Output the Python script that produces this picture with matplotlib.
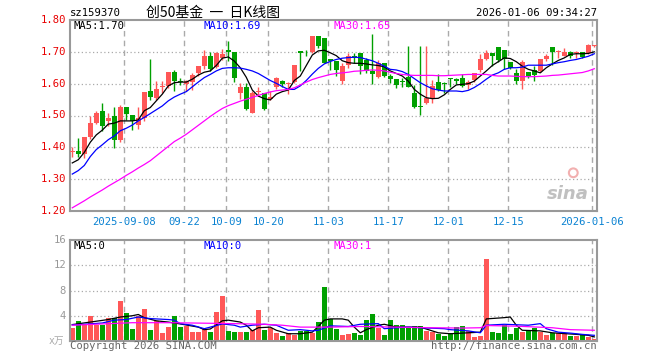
import matplotlib.pyplot as plt
import numpy as np

# daily candles, 2025-08-26 .. 2026-01-06 (88 trading days)
opens = [1.385, 1.388, 1.380, 1.433, 1.476, 1.514, 1.483, 1.497, 1.424, 1.526,
         1.501, 1.470, 1.493, 1.576, 1.555, 1.588, 1.593, 1.636, 1.608, 1.598,
         1.605, 1.634, 1.655, 1.686, 1.653, 1.681, 1.705, 1.699, 1.570, 1.588,
         1.509, 1.574, 1.572, 1.551, 1.589, 1.608, 1.598, 1.605, 1.704, 1.699,
         1.699, 1.749, 1.745, 1.676, 1.671, 1.608, 1.658, 1.686, 1.697, 1.673,
         1.640, 1.621, 1.666, 1.624, 1.614, 1.607, 1.621, 1.570, 1.528, 1.539,
         1.554, 1.604, 1.601, 1.617, 1.614, 1.619, 1.596, 1.610, 1.642, 1.679,
         1.697, 1.715, 1.707, 1.669, 1.634, 1.608, 1.638, 1.642, 1.640, 1.676,
         1.715, 1.700, 1.686, 1.700, 1.696, 1.700, 1.697, 1.717]
closes = [1.385, 1.380, 1.432, 1.476, 1.509, 1.468, 1.492, 1.424, 1.526, 1.505,
          1.484, 1.493, 1.574, 1.557, 1.582, 1.593, 1.636, 1.608, 1.604, 1.607,
          1.626, 1.655, 1.686, 1.645, 1.695, 1.692, 1.699, 1.619, 1.588, 1.520,
          1.570, 1.578, 1.520, 1.557, 1.619, 1.600, 1.603, 1.660, 1.695, 1.698,
          1.749, 1.718, 1.666, 1.671, 1.642, 1.657, 1.686, 1.681, 1.655, 1.640,
          1.631, 1.666, 1.624, 1.616, 1.596, 1.605, 1.590, 1.527, 1.527, 1.554,
          1.592, 1.580, 1.599, 1.614, 1.608, 1.593, 1.606, 1.634, 1.679, 1.697,
          1.686, 1.673, 1.676, 1.650, 1.608, 1.669, 1.624, 1.627, 1.676, 1.686,
          1.700, 1.703, 1.700, 1.686, 1.698, 1.685, 1.723, 1.721]
highs = [1.400, 1.430, 1.432, 1.500, 1.513, 1.539, 1.507, 1.526, 1.532, 1.526,
         1.501, 1.526, 1.574, 1.676, 1.607, 1.607, 1.636, 1.642, 1.619, 1.613,
         1.634, 1.655, 1.705, 1.700, 1.700, 1.710, 1.735, 1.699, 1.603, 1.603,
         1.577, 1.591, 1.572, 1.577, 1.622, 1.612, 1.605, 1.660, 1.704, 1.707,
         1.751, 1.751, 1.745, 1.676, 1.671, 1.666, 1.697, 1.697, 1.697, 1.681,
         1.756, 1.673, 1.666, 1.629, 1.614, 1.619, 1.717, 1.596, 1.717, 1.717,
         1.610, 1.629, 1.606, 1.619, 1.619, 1.629, 1.610, 1.634, 1.692, 1.707,
         1.697, 1.715, 1.707, 1.669, 1.645, 1.673, 1.638, 1.655, 1.676, 1.694,
         1.715, 1.707, 1.712, 1.704, 1.704, 1.700, 1.725, 1.723]
lows = [1.370, 1.370, 1.366, 1.426, 1.472, 1.451, 1.466, 1.399, 1.416, 1.486,
        1.453, 1.457, 1.483, 1.549, 1.549, 1.572, 1.586, 1.576, 1.595, 1.576,
        1.580, 1.624, 1.645, 1.641, 1.649, 1.673, 1.671, 1.605, 1.553, 1.517,
        1.507, 1.561, 1.517, 1.549, 1.584, 1.588, 1.567, 1.603, 1.640, 1.688,
        1.695, 1.712, 1.666, 1.642, 1.624, 1.600, 1.650, 1.665, 1.631, 1.634,
        1.600, 1.619, 1.621, 1.603, 1.585, 1.590, 1.588, 1.525, 1.502, 1.535,
        1.539, 1.577, 1.572, 1.588, 1.600, 1.588, 1.582, 1.605, 1.637, 1.673,
        1.655, 1.669, 1.645, 1.645, 1.600, 1.582, 1.617, 1.608, 1.638, 1.671,
        1.660, 1.680, 1.686, 1.680, 1.680, 1.680, 1.694, 1.715]

ma5 = [1.351, 1.361, 1.384, 1.416, 1.439, 1.454, 1.473, 1.476, 1.483, 1.483,
       1.483, 1.486, 1.515, 1.525, 1.546, 1.567, 1.593, 1.603, 1.605, 1.605,
       1.614, 1.627, 1.636, 1.640, 1.657, 1.680, 1.684, 1.671, 1.650, 1.620,
       1.580, 1.561, 1.553, 1.549, 1.567, 1.575, 1.580, 1.610, 1.624, 1.657,
       1.690, 1.703, 1.705, 1.697, 1.688, 1.672, 1.666, 1.664, 1.664, 1.662,
       1.659, 1.657, 1.653, 1.640, 1.632, 1.624, 1.608, 1.582, 1.567, 1.556,
       1.553, 1.554, 1.565, 1.582, 1.596, 1.598, 1.600, 1.608, 1.624, 1.640,
       1.657, 1.669, 1.681, 1.679, 1.669, 1.655, 1.645, 1.640, 1.634, 1.650,
       1.662, 1.673, 1.681, 1.692, 1.694, 1.694, 1.695, 1.700]
ma10 = [1.316, 1.327, 1.343, 1.371, 1.393, 1.408, 1.424, 1.436, 1.452, 1.460,
        1.470, 1.483, 1.494, 1.506, 1.518, 1.530, 1.546, 1.558, 1.567, 1.575,
        1.590, 1.605, 1.619, 1.629, 1.640, 1.648, 1.650, 1.650, 1.649, 1.645,
        1.640, 1.632, 1.621, 1.610, 1.601, 1.591, 1.582, 1.582, 1.593, 1.610,
        1.630, 1.648, 1.662, 1.670, 1.676, 1.680, 1.682, 1.683, 1.682, 1.677,
        1.672, 1.664, 1.655, 1.645, 1.643, 1.638, 1.629, 1.616, 1.603, 1.593,
        1.584, 1.580, 1.577, 1.577, 1.577, 1.575, 1.579, 1.588, 1.600, 1.614,
        1.627, 1.634, 1.645, 1.650, 1.650, 1.652, 1.658, 1.658, 1.658, 1.658,
        1.662, 1.666, 1.669, 1.673, 1.676, 1.681, 1.686, 1.694]
ma30 = [1.210, 1.221, 1.232, 1.244, 1.255, 1.266, 1.278, 1.289, 1.300, 1.312,
        1.323, 1.335, 1.346, 1.358, 1.373, 1.388, 1.403, 1.418, 1.429, 1.441,
        1.455, 1.469, 1.483, 1.497, 1.510, 1.522, 1.531, 1.538, 1.545, 1.551,
        1.557, 1.563, 1.569, 1.574, 1.578, 1.580, 1.582, 1.587, 1.596, 1.605,
        1.613, 1.619, 1.624, 1.629, 1.632, 1.634, 1.636, 1.639, 1.640, 1.642,
        1.643, 1.642, 1.640, 1.636, 1.632, 1.629, 1.627, 1.626, 1.626, 1.626,
        1.626, 1.625, 1.625, 1.626, 1.627, 1.628, 1.629, 1.629, 1.629, 1.629,
        1.626, 1.624, 1.624, 1.624, 1.623, 1.622, 1.622, 1.622, 1.623, 1.624,
        1.626, 1.627, 1.629, 1.631, 1.633, 1.635, 1.640, 1.647]

# volume (x万)
volume = [2.0, 3.1, 2.6, 4.0, 2.6, 2.6, 3.6, 3.6, 6.3, 4.4,
          1.85, 4.0, 5.0, 1.7, 3.1, 1.2, 2.2, 4.0, 2.2, 2.3,
          1.4, 1.4, 1.85, 1.4, 4.55, 7.1, 1.55, 1.4, 1.4, 1.4,
          1.7, 4.9, 1.7, 2.0, 1.2, 0.75, 1.2, 0.9, 1.55, 1.55,
          1.2, 3.0, 8.5, 3.5, 1.85, 0.9, 1.05, 1.2, 0.9, 3.3,
          4.2, 2.0, 0.9, 3.4, 2.5, 2.5, 2.2, 2.3, 2.3, 1.55,
          1.4, 1.05, 0.75, 1.2, 2.2, 2.3, 1.55, 0.6, 0.75, 13.0,
          1.4, 1.2, 2.5, 1.05, 2.0, 1.4, 1.7, 2.0, 1.4, 0.9,
          1.2, 1.2, 1.2, 0.75, 0.75, 0.9, 0.6, 0.25]
vma5_idx = [0, 3, 6, 8, 10, 11, 12, 14, 16, 18, 21, 22, 23, 25, 26, 28, 29, 30,
            31, 33, 34, 36, 38, 40, 41, 42, 43, 45, 46, 47, 48, 49, 51, 52, 54,
            58, 60, 61, 63, 66, 68, 69, 72, 73, 74, 75, 78, 80, 84, 86, 87]
vma5 = [2.6, 3.0, 3.4, 3.8, 4.0, 4.2, 3.7, 3.2, 3.0, 2.7, 2.2, 1.8, 1.9, 3.2,
        3.3, 3.0, 2.5, 1.6, 2.1, 2.2, 1.7, 1.15, 1.15, 1.4, 2.3, 3.3, 3.5, 3.5,
        3.3, 2.2, 1.3, 1.8, 2.5, 2.65, 2.2, 2.2, 1.6, 1.3, 1.15, 1.3, 1.4, 3.5,
        3.7, 3.8, 2.5, 1.7, 1.6, 1.3, 1.05, 0.9, 0.65]
vma10_idx = [0, 2, 5, 7, 9, 11, 13, 16, 17, 18, 20, 22, 25, 27, 28, 30, 32, 34,
             36, 38, 40, 41, 43, 46, 48, 51, 52, 54, 56, 58, 62, 63, 66, 68, 69,
             72, 76, 78, 79, 81, 83, 85, 87]
vma10 = [2.55, 2.65, 2.85, 3.3, 3.4, 3.8, 3.55, 3.4, 3.3, 2.75, 2.5, 1.95, 2.7,
         2.5, 2.2, 2.5, 2.65, 2.5, 1.7, 1.8, 1.6, 1.7, 2.4, 2.3, 2.65, 2.75,
         1.95, 2.1, 2.2, 2.1, 1.95, 1.8, 1.6, 1.3, 2.5, 2.65, 2.5, 2.75, 1.95,
         1.4, 1.25, 1.05, 0.9]
vma30_idx = [0, 5, 10, 16, 20, 27, 32, 35, 38, 43, 48, 54, 60, 65, 68, 69, 74,
             80, 83, 87]
vma30 = [2.5, 2.7, 2.9, 2.9, 2.85, 2.75, 2.65, 2.5, 2.2, 2.2, 2.3, 2.2, 2.1,
         2.05, 2.1, 2.45, 2.35, 2.1, 1.8, 1.7]

tick_idx = [9, 19, 26, 33, 43, 53, 63, 73, 87]
tick_labels = ['2025-09-08', '09-22', '10-09', '10-20', '11-03', '11-17',
               '12-01', '12-15', '2026-01-06']
price_ticks = [1.20, 1.30, 1.40, 1.50, 1.60, 1.70, 1.80]
vol_ticks = [4, 8, 12, 16]

RED = '#ff5757'
GREEN = '#00a000'
GRID = '#aaaaaa'
MONO = ['DejaVu Sans Mono', 'Noto Sans CJK SC']

fig = plt.figure(figsize=(6.6, 3.6), dpi=100)
W, H = 660, 360


def box(l, t, r, b):
    return [l / W, 1 - b / H, (r - l) / W, (b - t) / H]


ax = fig.add_axes(box(70, 20, 597, 211))
axv = fig.add_axes(box(70, 240, 597, 341))

x = np.arange(len(opens))
o = np.array(opens)
c = np.array(closes)
up = c >= o
colors = np.where(up, RED, GREEN)

for a in (ax, axv):
    a.set_xlim(-0.38, 87.45)
    for s in a.spines.values():
        s.set_color('#999999')
        s.set_linewidth(1.5)
    a.set_xticks([])
    a.set_yticks([])
    for t in tick_idx:
        a.axvline(t - 0.33, color=GRID, lw=1.0, ls=(0, (4, 3)), zorder=0)

# price panel
ax.set_ylim(1.20, 1.80)
for p in price_ticks[1:-1]:
    ax.axhline(p, color=GRID, lw=0.9, ls=(0, (1, 2)), zorder=0)
ax.vlines(x, lows, highs, colors=colors, lw=1.0, zorder=2)
ax.bar(x, np.maximum(np.abs(c - o), 0.0025), bottom=np.minimum(o, c),
       width=0.82, color=colors, zorder=3, linewidth=0)
ax.plot(x, ma5, color='black', lw=0.9, zorder=4)
ax.plot(x, ma10, color='#0000ff', lw=0.9, zorder=4)
ax.plot(x, ma30, color='#ff00ff', lw=0.9, zorder=4)

ax.text(0.985, 0.04, 'sina', transform=ax.transAxes, ha='right', va='bottom',
        fontsize=13, color='#c0c0c0', style='italic', weight='bold', zorder=1)
ax.scatter([0.955], [0.2], s=40, transform=ax.transAxes, facecolor='none',
           edgecolor='#f2b0b0', lw=1.5, zorder=1)

# volume panel
axv.set_ylim(0, 16)
for v in vol_ticks[:-1]:
    axv.axhline(v, color=GRID, lw=0.9, ls=(0, (1, 2)), zorder=0)
axv.bar(x, volume, width=0.82, color=colors, zorder=2, linewidth=0)
axv.plot(vma5_idx, vma5, color='black', lw=0.9, zorder=3)
axv.plot(vma10_idx, vma10, color='#0000ff', lw=0.9, zorder=3)
axv.plot(vma30_idx, vma30, color='#ff00ff', lw=0.9, zorder=3)


def ftext(px, py, s, **kw):
    kw.setdefault('family', MONO)
    kw.setdefault('fontsize', 7.6)
    kw.setdefault('va', 'center')
    fig.text(px / W, 1 - py / H, s, **kw)


# header
ftext(70, 13, 'sz159370')
ftext(213, 13, '创50基金  一  日K线图', ha='center', fontsize=10,
      family=['Noto Sans CJK SC', 'DejaVu Sans'])
ftext(597, 13, '2026-01-06 09:34:27', ha='right')

ftext(74, 26, 'MA5:%.2f' % ma5[-1], color='black')
ftext(204, 26, 'MA10:%.2f' % ma10[-1], color='#0000ff')
ftext(334, 26, 'MA30:%.2f' % ma30[-1], color='#ff00ff')

# price axis labels
for p in price_ticks:
    py = 211 - (p - 1.20) / 0.60 * 191
    ftext(66, py, '%.2f' % p, ha='right', color='#e80000')

# date labels
for t, lab in zip(tick_idx, tick_labels):
    px = 72.3 + 6 * t - 2
    ftext(px, 222, lab, ha='center', color='#0a82d2')

# volume axis labels
for v in vol_ticks:
    py = 341 - v / 16 * 101
    ftext(66, py, str(v), ha='right', color='#999999')
ftext(56, 341, 'x万', ha='center', color='#aaaaaa', fontsize=7)

ftext(74, 246, 'MA5:0', color='black')
ftext(204, 246, 'MA10:0', color='#0000ff')
ftext(334, 246, 'MA30:1', color='#ff00ff')

ftext(70, 346, 'Copyright 2026 SINA.COM', color='#666666')
ftext(597, 346, 'http://finance.sina.com.cn', ha='right', color='#666666')

fig.savefig('out.png', dpi=100)
